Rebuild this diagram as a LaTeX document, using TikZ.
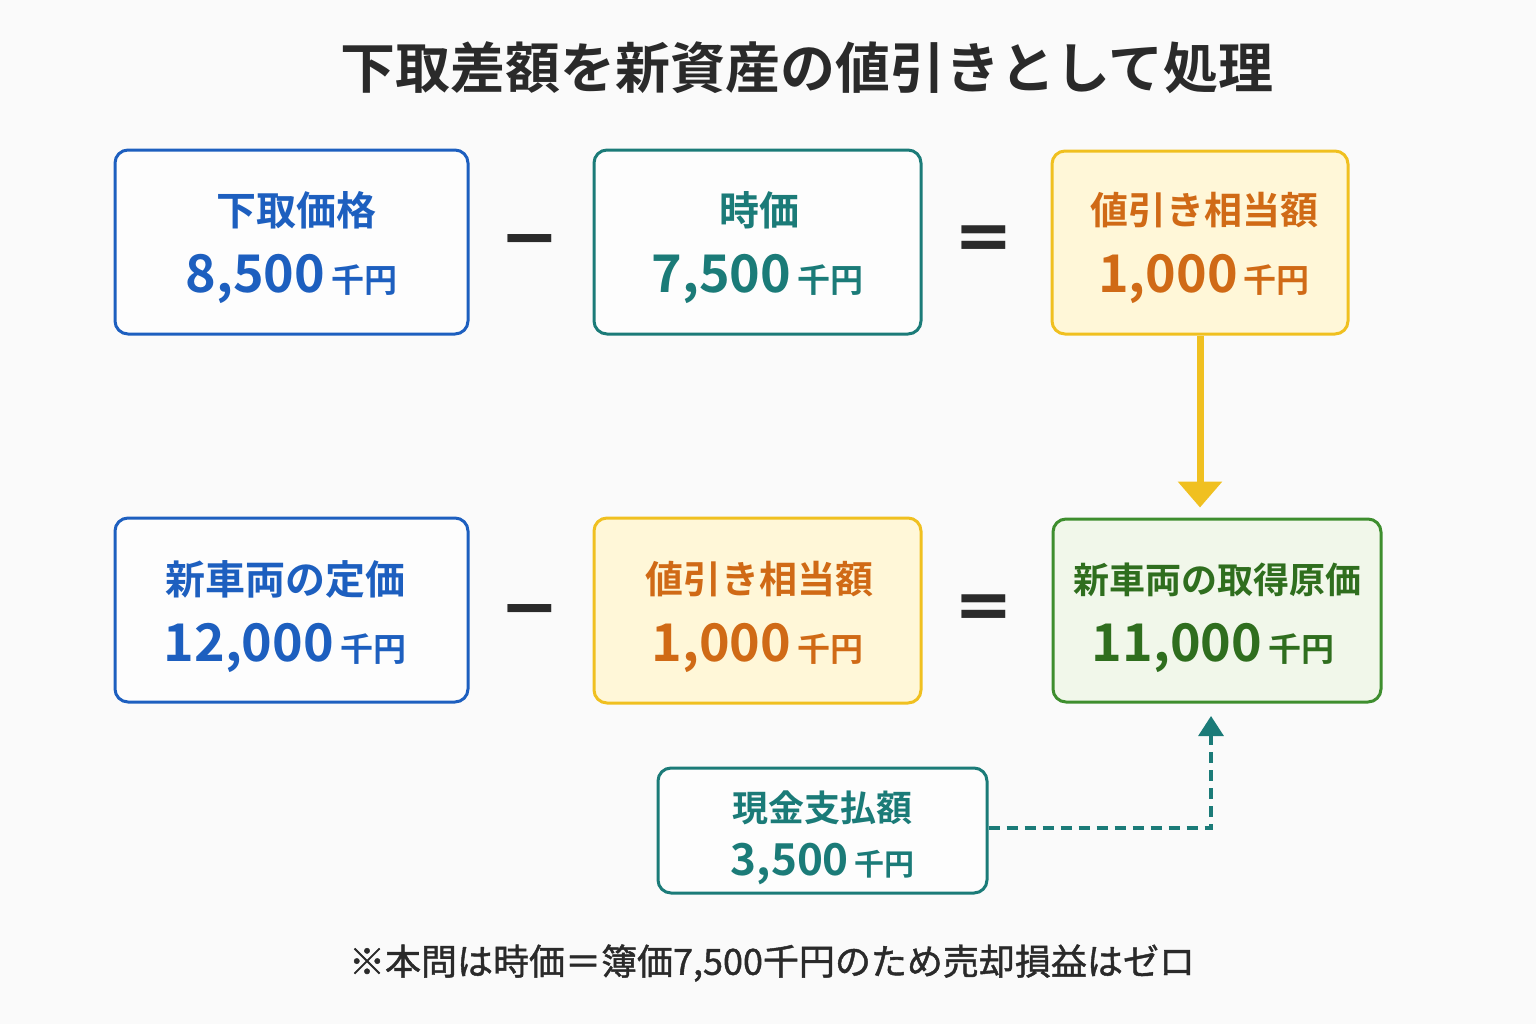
\documentclass[tikz,border=0pt]{standalone}
\usepackage{fontspec}
\setmainfont{Noto Sans CJK JP}[BoldFont={* Bold}]
\newfontfamily\notefont{Noto Sans CJK JP}[FakeBold=1.2]
\newfontfamily\opfont{DejaVu Sans}[BoldFont={* Bold}]
\usetikzlibrary{arrows.meta}
\definecolor{bg}{HTML}{FAFAFA}
\definecolor{cblue}{HTML}{1D5FBF}
\definecolor{cteal}{HTML}{1B7B78}
\definecolor{cyel}{HTML}{F0C020}
\definecolor{cyelfill}{HTML}{FFF7D8}
\definecolor{corange}{HTML}{D06A16}
\definecolor{cgreen}{HTML}{3E8E2E}
\definecolor{cgreenfill}{HTML}{F1F7EA}
\definecolor{cgreentext}{HTML}{2F6E1E}
\definecolor{ink}{HTML}{2A2A2A}
\begin{document}
\begin{tikzpicture}[x=0.5pt,y=-0.5pt,
  box/.style={draw=#1, rounded corners=6.5pt, line width=1.5pt, inner sep=0pt, fill=white!60!bg},
  lab/.style={font=\bfseries\fontsize{20}{24}\selectfont, inner sep=0pt},
  smalllab/.style={font=\bfseries\fontsize{18}{21}\selectfont, inner sep=0pt},
  num/.style={font=\bfseries\fontsize{26}{30}\selectfont, inner sep=0pt, anchor=base},
  smallnum/.style={font=\bfseries\fontsize{22}{26}\selectfont, inner sep=0pt, anchor=base},
  op/.style={font=\opfont\bfseries\fontsize{35}{40}\selectfont, text=ink, inner sep=0pt},
]
\useasboundingbox[fill=bg] (0,0) rectangle (1536,1024);
\newcommand{\yen}[1]{\hspace{0.12em}{\fontsize{#1}{#1}\selectfont 千円}}

% title
\node[font=\bfseries\fontsize{27.5}{32}\selectfont, text=ink, inner sep=0pt] (title) at (807,68) {下取差額を新資産の値引きとして処理};

% row 1
\node[box=cblue, minimum width=176.5pt, minimum height=92pt] (b1) at (291.5,242) {};
\node[lab, text=cblue] (b1l) at (296,210) {下取価格};
\node[num, text=cblue] (b1n) at (291.5,292) {8,500\yen{16.5}};

\node[op] (m1) at (529.5,248) {−};

\node[box=cteal, minimum width=163.5pt, minimum height=92pt] (b2) at (757.5,242) {};
\node[lab, text=cteal] (b2l) at (759,210) {時価};
\node[num, text=cteal] (b2n) at (757.5,292) {7,500\yen{16.5}};

\node[op] (e1) at (983.5,243) {=};

\node[box=cyel, fill=cyelfill, minimum width=148pt, minimum height=91.5pt] (b3) at (1200,242.5) {};
\node[lab, text=corange, font=\bfseries\fontsize{19}{23}\selectfont] (b3l) at (1204,210) {値引き相当額};
\node[num, text=corange] (b3n) at (1204,292) {1,000\yen{16.5}};

% row 2
\node[box=cblue, minimum width=176.5pt, minimum height=92pt] (b4) at (291.5,610) {};
\node[lab, text=cblue] (b4l) at (285,579) {新車両の定価};
\node[num, text=cblue] (b4n) at (285,661) {12,000\yen{16.5}};

\node[op] (m2) at (529.5,617) {−};

\node[box=cyel, fill=cyelfill, minimum width=163.5pt, minimum height=92.5pt] (b5) at (757.5,610.5) {};
\node[lab, text=corange, font=\bfseries\fontsize{19}{23}\selectfont] (b5l) at (759,579) {値引き相当額};
\node[num, text=corange] (b5n) at (757.5,661) {1,000\yen{16.5}};

\node[op] (e2) at (983.5,612) {=};

\node[box=cgreen, fill=cgreenfill, minimum width=164pt, minimum height=91.5pt] (b6) at (1217,610.5) {};
\node[lab, text=cgreentext, font=\bfseries\fontsize{18}{22}\selectfont] (b6l) at (1217,580) {新車両の取得原価};
\node[num, text=cgreentext] (b6n) at (1213,661) {11,000\yen{16.5}};

% cash box
\node[box=cteal, minimum width=164.5pt, minimum height=62.5pt] (cash) at (822.5,830.5) {};
\node[smalllab, text=cteal] (cashl) at (822,808) {現金支払額};
\node[smallnum, text=cteal] (cashn) at (822.5,875) {3,500\yen{15}};

% connectors
\draw[cyel, line width=3.5pt, -{Triangle[width=21.5pt,length=13pt]}, shorten >=5pt]
  (b3.south) -- (b3.south |- b6.north);
\coordinate (c6) at (1211,702);
\draw[cteal, line width=1.6pt, dash pattern=on 5.5pt off 3.5pt, -{Triangle[width=12.5pt,length=10pt]}, shorten >=7pt]
  (cash.east |- 0,828) -| (c6);

% footnote
\node[font=\notefont\fontsize{18}{22}\selectfont, text=ink, inner sep=0pt] (note) at (772,963) {※本問は時価＝簿価7,500千円のため売却損益はゼロ};
\end{tikzpicture}
\end{document}
